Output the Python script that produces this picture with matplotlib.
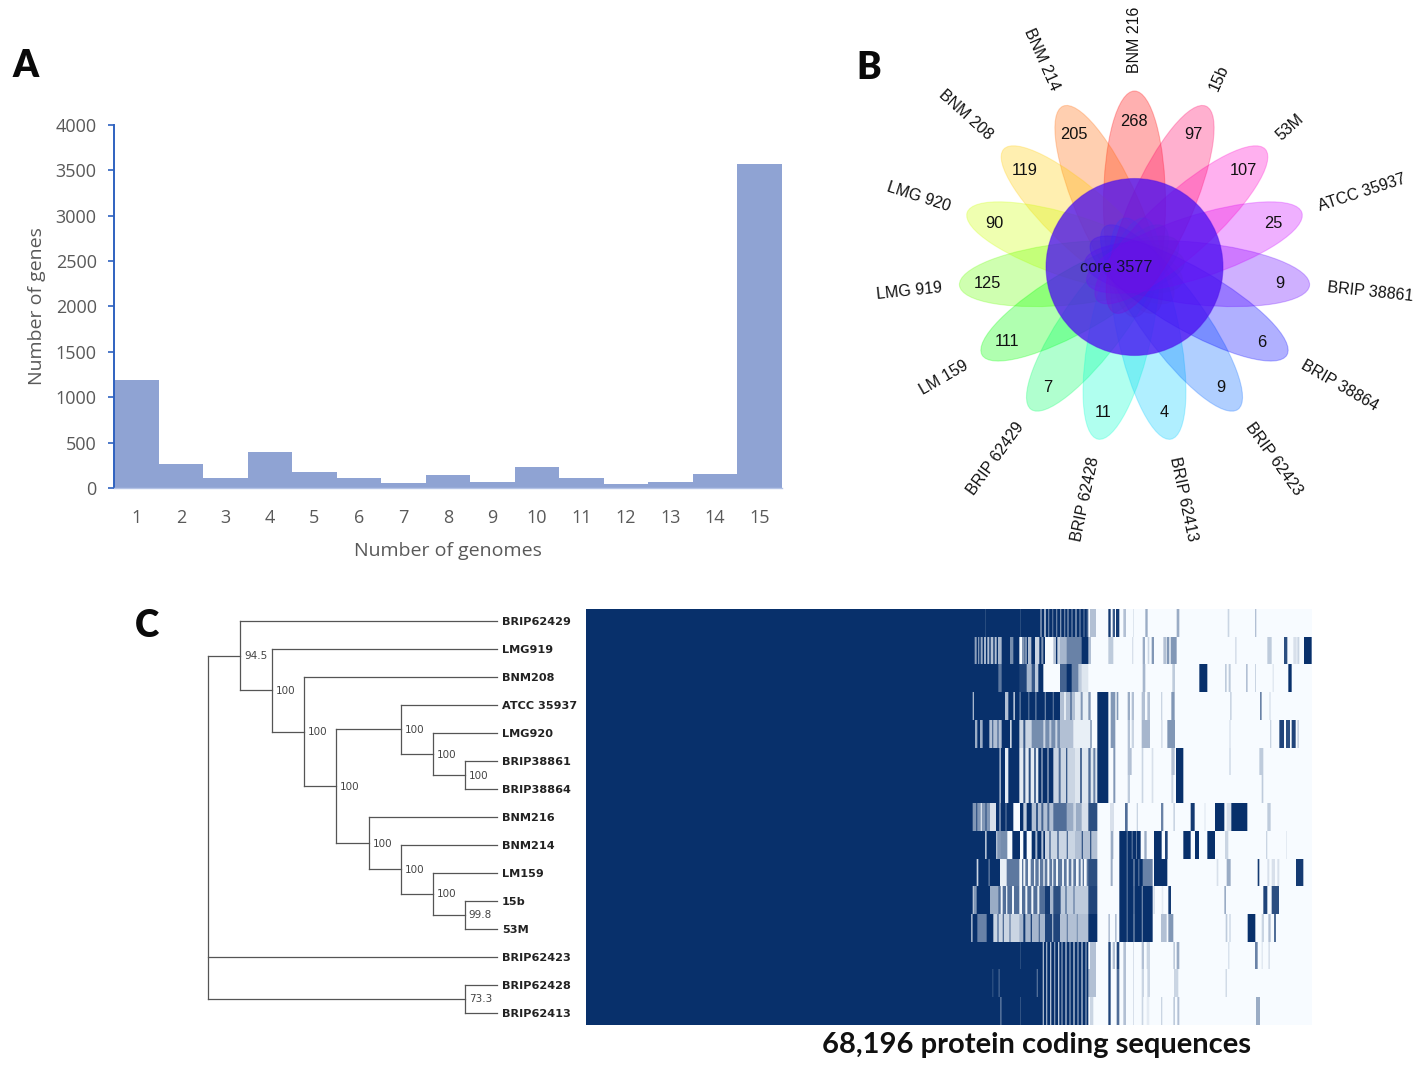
import matplotlib
matplotlib.use("Agg")
import numpy as np
import matplotlib.pyplot as plt
from matplotlib.patches import Ellipse, Circle
from matplotlib.colors import hsv_to_rgb, LinearSegmentedColormap

W, H = 1418, 1071

# ---- Panel A data
genome_counts = list(range(1, 16))
gene_counts = [1190, 265, 115, 400, 175, 105, 55, 140, 65, 235, 105, 40, 65, 155, 3570]

# ---- Panel B data (counter-clockwise from the top petal)
strain_names = ["BNM 216", "BNM 214", "BNM 208", "LMG 920", "LMG 919", "LM 159", "BRIP 62429",
                "BRIP 62428", "BRIP 62413", "BRIP 62423", "BRIP 38864", "BRIP 38861",
                "ATCC 35937", "53M", "15b"]
unique_genes = [268, 205, 119, 90, 125, 111, 7, 11, 4, 9, 6, 9, 25, 107, 97]
core_genes = 3577

# ---- Panel C tree: (depth, support, children); a string is a leaf
clade_15b = (8, "99.8", ["15b", "53M"])
clade_lm = (7, "100", ["LM159", clade_15b])
clade_214 = (6, "100", ["BNM214", clade_lm])
clade_216 = (5, "100", ["BNM216", clade_214])
clade_388 = (8, "100", ["BRIP38861", "BRIP38864"])
clade_920 = (7, "100", ["LMG920", clade_388])
clade_atcc = (6, "100", ["ATCC 35937", clade_920])
clade_mid = (4, "100", [clade_atcc, clade_216])
clade_208 = (3, "100", ["BNM208", clade_mid])
clade_919 = (2, "100", ["LMG919", clade_208])
clade_429 = (1, "94.5", ["BRIP62429", clade_919])
clade_428 = (8, "73.3", ["BRIP62428", "BRIP62413"])
tree_root = (0, "", [clade_429, "BRIP62423", clade_428])
TIP_DEPTH = 9

# ---- Panel C heat map: all 15 rows, bands (start, end, level)
n_columns = 2178
offset = 1122   # columns left of the read window, solid dark
window_end = 1055

stripes_a = [(75, 77, .8), (180, 182, .8), (240, 246, .6), (252, 258, .4), (264, 268, .6), (276, 280, .7),
             (288, 292, .6), (300, 304, .5), (312, 316, .6), (322, 326, .5), (334, 338, .6), (346, 350, .4),
             (358, 362, .6), (370, 374, .7), (380, 385, .75)]
stripes_b = [(248, 252, .35), (258, 262, .4), (270, 274, .3), (282, 286, .5), (294, 298, .25), (304, 308, .5),
             (316, 320, .3), (328, 332, .5), (340, 344, .25), (352, 356, .45), (364, 368, .3), (376, 380, .5)]
stripes_mid = [(178, 186, .03), (190, 196, .05), (204, 212, .03), (222, 226, .05), (236, 240, .1), (250, 254, .05),
               (262, 268, .03), (276, 280, .1), (288, 294, .05), (306, 312, .08), (320, 326, .03), (334, 340, .08),
               (348, 356, .04), (362, 368, .08), (372, 380, .03)]

row_0 = [(0, window_end, .02)] + [(0, 235, 1)] + [(235, 385, 1)] + stripes_a + [
    (390, 408, .3), (445, 452, .95), (458, 465, .8), (468, 478, .95), (490, 498, .3), (519, 522, .12),
    (556, 563, .4), (650, 658, .4), (803, 808, .2), (885, 889, .3)]
row_1 = [(0, 385, 1), (44, 50, .45), (54, 58, .5), (62, 68, .4), (72, 78, .35), (82, 88, .3), (92, 100, .3),
         (104, 110, .3), (114, 125, .35), (150, 160, .55), (178, 186, .02), (186, 194, .5), (196, 200, .3),
         (204, 214, .3), (225, 238, .2), (244, 250, .5), (255, 280, .02), (280, 288, .3), (292, 300, .2),
         (300, 320, .35), (320, 365, .6), (385, 393, .3), (393, 445, .02), (445, 460, .25), (460, 516, .02),
         (516, 520, .15), (520, 548, .02), (548, 555, .4), (555, 563, .02), (563, 568, .2), (568, 575, .02),
         (575, 582, .5), (582, 610, .02), (610, 618, .3), (618, 620, .02), (620, 628, .5), (628, 632, .02),
         (632, 650, .5), (650, 1055, .02), (825, 830, .15), (922, 935, .25), (972, 982, .85), (1000, 1010, .15),
         (1012, 1018, .2), (1032, 1055, 1)]
row_2 = [(0, 365, 1), (115, 125, .65), (178, 200, .9), (200, 215, .35), (215, 225, .8), (225, 235, .25),
         (250, 300, .02), (300, 320, .75), (335, 355, .6), (355, 365, .25), (365, 385, .12), (385, 1055, .02),
         (548, 556, .35), (637, 645, .25), (718, 742, 1), (795, 800, .25), (806, 812, .25), (858, 863, .3),
         (885, 888, .2), (938, 941, .15), (985, 995, 1)]
row_3 = [(0, 300, 1), (38, 42, .35), (135, 145, .3), (160, 165, .3), (178, 183, .7), (205, 208, .6),
         (225, 230, .7), (254, 258, .6), (278, 282, .7), (300, 345, .3), (312, 318, .1), (330, 336, .6),
         (345, 362, .1), (362, 368, .5), (368, 385, .08), (385, 392, .5), (392, 412, .02), (412, 445, 1),
         (445, 1055, .02), (452, 466, .5), (470, 475, .5), (503, 510, .4), (515, 522, .3), (545, 555, .3),
         (562, 570, .3), (603, 607, .2), (634, 644, .5), (810, 815, .2), (900, 905, .6), (928, 932, .15)]
row_4 = [(0, 300, 1), (45, 52, .4), (60, 68, .4), (88, 125, .3), (96, 100, .7), (112, 116, .7), (150, 155, .2),
         (178, 215, .2), (190, 196, .8), (215, 240, .55), (240, 300, .55), (250, 256, .2), (268, 274, .25),
         (286, 292, .2), (300, 340, .3), (340, 390, .08), (390, 396, .4), (396, 412, .02), (412, 445, 1),
         (445, 1055, .02), (452, 466, .5), (503, 510, .3), (515, 522, .2), (545, 570, .35), (603, 608, .15),
         (622, 645, .5), (808, 812, .15), (930, 934, .2), (958, 972, .9), (978, 990, .85), (995, 1007, .9),
         (1012, 1017, .2)]
row_5 = [(0, 280, 1), (118, 123, .4), (135, 145, .1), (178, 235, .1), (190, 196, .8), (206, 212, .85),
         (222, 228, .7), (244, 248, .4), (262, 266, .4), (280, 345, .2), (296, 302, .7), (318, 322, .8),
         (345, 412, .12), (360, 366, .7), (385, 392, .7), (400, 406, .6), (412, 445, 1), (445, 1055, .02),
         (460, 466, .5), (503, 515, .3), (545, 550, .2), (575, 580, .15), (634, 644, .3), (648, 670, 1),
         (808, 812, .2), (898, 910, .25)]
row_6 = [(0, 280, 1), (118, 123, .4), (135, 145, .1), (178, 235, .1), (190, 196, .8), (206, 212, .85),
         (222, 228, .7), (244, 248, .4), (262, 266, .4), (280, 345, .2), (296, 302, .7), (318, 322, .8),
         (345, 412, .12), (360, 366, .7), (385, 392, .7), (400, 406, .6), (412, 445, 1), (445, 1055, .02),
         (460, 466, .5), (503, 510, .25), (545, 550, .2), (575, 580, .15), (634, 640, .2), (648, 670, 1),
         (905, 910, .25)]
row_7 = [(0, 160, 1), (38, 90, .5), (48, 52, .8), (62, 66, .15), (76, 80, .8), (90, 108, .15), (118, 122, .4),
         (136, 140, .7), (160, 180, .02), (190, 200, .25), (215, 280, .3), (228, 234, .8), (244, 250, .75),
         (262, 268, .7), (280, 320, .7), (320, 385, .4), (340, 348, .2), (365, 385, .15), (385, 412, .85),
         (412, 1055, .02), (450, 462, .15), (495, 503, .7), (530, 534, .2), (603, 610, .6), (640, 645, .2),
         (692, 704, .95), (733, 737, .1), (765, 793, 1), (800, 814, .15), (814, 862, 1), (922, 932, .25)]
row_8 = [(0, 255, 1), (75, 80, .3), (108, 112, .3), (112, 122, .5), (122, 142, .55), (142, 157, .02),
         (180, 190, .02), (200, 215, .02), (226, 232, .35), (244, 250, .3), (255, 345, .2), (268, 272, .75),
         (292, 296, .8), (320, 324, .7), (345, 412, .3), (365, 369, .8), (390, 394, .8), (412, 1055, .02),
         (452, 460, .4), (478, 542, 1), (500, 503, .6), (515, 518, .6), (528, 531, .65), (553, 560, .4),
         (582, 605, 1), (615, 623, .9), (670, 692, 1), (705, 717, 1), (742, 765, 1), (795, 805, .2),
         (918, 922, .2), (978, 981, .1)]
row_9 = [(0, 120, 1), (50, 55, .2), (85, 90, .7), (120, 140, .08), (140, 385, .65)] + stripes_mid + [
    (385, 412, .85), (412, 1055, .02), (452, 458, .4), (478, 548, 1), (500, 503, .6), (520, 524, .55),
    (535, 538, .6), (548, 578, .6), (582, 622, 1), (770, 775, .15), (800, 812, .4), (893, 898, .95),
    (922, 928, .15), (935, 945, .15), (952, 958, .15), (1008, 1030, .95)]
row_10 = [(0, 90, 1), (38, 42, .3), (42, 50, .5), (90, 115, .4), (115, 255, .7), (122, 128, .05), (138, 142, .08),
          (156, 162, .05), (178, 186, .03), (196, 202, .05), (214, 220, .03), (232, 238, .08),
          (255, 270, .95), (270, 280, .35), (280, 302, .85), (302, 385, .25), (316, 320, .7), (340, 344, .6),
          (385, 412, .9), (412, 1055, .02), (478, 578, 1), (500, 503, .6), (520, 524, .6), (545, 549, .6),
          (580, 585, .15), (605, 610, .1), (625, 633, .95), (793, 798, .4), (910, 922, .9), (935, 957, .85)]
row_11 = [(0, 100, 1), (33, 38, .4), (52, 80, .6), (100, 178, .2), (112, 116, .7), (128, 132, .7), (148, 152, .6),
          (178, 255, .35), (190, 196, .95), (212, 216, .9), (236, 240, .7), (255, 300, .9), (276, 280, .4),
          (300, 385, .3), (320, 324, .6), (350, 354, .5), (385, 412, 1), (412, 1055, .02), (445, 450, .3),
          (465, 470, .3), (478, 578, 1), (500, 503, .6), (520, 524, .55), (545, 549, .6), (603, 620, .3),
          (625, 640, .5), (797, 802, .25), (808, 812, .2), (863, 886, 1), (905, 912, .2), (925, 932, .3),
          (942, 948, .7)]
row_12 = [(0, 385, 1)] + stripes_b + [(180, 182, .8), (385, 1055, .02), (390, 408, .3), (445, 452, .9),
          (458, 465, .3), (470, 478, .9), (490, 498, .3), (519, 522, .15), (545, 552, .3), (560, 570, .2),
          (640, 645, .25), (650, 658, .4), (805, 808, .2), (885, 893, .6), (905, 908, .15), (925, 930, .15)]
row_13 = [(0, 385, 1)] + stripes_b + [(97, 100, .8), (115, 120, .8), (230, 234, .7), (385, 1055, .02),
          (385, 408, .3), (445, 452, .9), (470, 478, .7), (490, 498, .3), (519, 522, .15), (545, 552, .2),
          (562, 570, .2), (642, 655, .2), (797, 800, .25)]
row_14 = [(0, 385, 1)] + stripes_b + [(120, 125, .7), (180, 182, .75), (385, 1055, .02), (390, 400, .2),
          (445, 452, .9), (470, 478, .7), (490, 498, .3), (519, 522, .15), (545, 550, .2), (560, 568, .1),
          (603, 607, .2), (640, 645, .25), (652, 658, .3), (888, 900, .4)]
heat_rows = [row_0, row_1, row_2, row_3, row_4, row_5, row_6, row_7, row_8, row_9, row_10, row_11, row_12,
             row_13, row_14]

GREY = "#595959"
plt.rcParams["font.family"] = ["Open Sans", "DejaVu Sans"]
fig = plt.figure(figsize=(W / 100, H / 100), dpi=100, facecolor="white")


def px_axes(x0, y0, x1, y1, **kw):
    return fig.add_axes([x0 / W, 1 - y1 / H, (x1 - x0) / W, (y1 - y0) / H], **kw)


# ---- Panel A
ax = px_axes(114, 125, 782, 488)
ax.bar(genome_counts, gene_counts, width=1.0, color="#8FA3D3", linewidth=0)
ax.set_xlim(0.5, 15.5)
ax.set_ylim(0, 4000)
ax.set_yticks(range(0, 4001, 500))
ax.set_xticks(genome_counts)
ax.tick_params(axis="x", length=0, labelsize=13, labelcolor=GREY, pad=15)
ax.tick_params(axis="y", length=4.5, width=1.2, color="#2F62C0", labelsize=13, labelcolor=GREY, pad=8, direction="out")
for s in ("top", "right"):
    ax.spines[s].set_visible(False)
ax.spines["left"].set_color("#2F62C0")
ax.spines["left"].set_linewidth(1.4)
ax.spines["bottom"].set_color("#B4C3E6")
ax.spines["bottom"].set_linewidth(1.0)
ax.set_xlabel("Number of genomes", fontsize=14, color=GREY, labelpad=11)
ax.set_ylabel("Number of genes", fontsize=14, color=GREY, labelpad=7)

# ---- Panel B
CX, CY = 1134.5, 267
fl = px_axes(860, 0, 1418, 545)
fl.set_xlim(860 - CX, 1418 - CX)
fl.set_ylim(CY - 545, CY)
fl.axis("off")
SEMI_MAJOR, SEMI_MINOR, TIP = 113, 31, 176
n = len(strain_names)
for i, (name, val) in enumerate(zip(strain_names, unique_genes)):
    ang = 90 + i * 360 / n
    rad = np.deg2rad(ang)
    c = hsv_to_rgb((i / n, 1, 1))
    r0 = TIP - SEMI_MAJOR
    fl.add_patch(Ellipse((r0 * np.cos(rad), r0 * np.sin(rad)), 2 * SEMI_MAJOR, 2 * SEMI_MINOR, angle=ang,
                         facecolor=(*c, .31), edgecolor=(*c, .25), linewidth=.8))
    fl.text(147 * np.cos(rad) - .5, 147 * np.sin(rad) - 1.5, str(val), ha="center", va="center", fontsize=11.8,
            family="Liberation Sans", color="#111111", zorder=5)
    right = np.cos(rad) > 1e-6 or i == 0
    rot = ang if right else ang - 180
    fl.text(194 * np.cos(rad), 194 * np.sin(rad), name, ha="left" if right else "right", va="center",
            rotation=(rot + 180) % 360 - 180, rotation_mode="anchor", fontsize=11.5, family="Liberation Sans",
            color="#111111", zorder=5)
fl.add_patch(Circle((0, 0), 88.5, facecolor=(0.30, 0.07, 0.95, .78), edgecolor=(0.3, 0.05, .9, .4), lw=.8, zorder=3))
fl.text(-18, -1, f"core {core_genes}", ha="center", va="center", fontsize=11.7, family="Liberation Sans",
        color="#111133", zorder=5)

# ---- Panel C heat map
hm = px_axes(586, 609, 1312, 1025)
matrix = np.ones((len(heat_rows), n_columns))
for r, bands in enumerate(heat_rows):
    for a, b, v in bands:
        matrix[r, offset + a:offset + b] = v
    matrix[r, offset + window_end:] = .02
binned = matrix.reshape(len(heat_rows), -1, 3).mean(axis=2)
navy = LinearSegmentedColormap.from_list("navy", ["#f7fbff", "#08306b"])
hm.imshow(binned, aspect="auto", cmap=navy, vmin=.02, vmax=1, interpolation="nearest")
hm.axis("off")

# ---- Panel C tree
tr = px_axes(208, 621, 497, 1012.5)
tr.set_xlim(0, TIP_DEPTH)
tr.set_ylim(14, 0)
tr.axis("off")
leaf_no = [0]
LINE = dict(color="#555555", lw=.9, solid_capstyle="projecting")


def draw(node):
    if isinstance(node, str):
        y = leaf_no[0]
        leaf_no[0] += 1
        tr.text(TIP_DEPTH + .16, y + .05, node, ha="left", va="center", fontsize=8.1, fontweight="bold",
                family="DejaVu Sans", color="#222222", clip_on=False)
        return TIP_DEPTH, y
    depth, support, children = node
    pts = [draw(c) for c in children]
    ys = [p[1] for p in pts]
    for x, y in pts:
        tr.plot([depth, x], [y, y], clip_on=False, **LINE)
    tr.plot([depth, depth], [min(ys), max(ys)], clip_on=False, **LINE)
    ymid = (ys[0] + ys[-1]) / 2
    if support:
        tr.text(depth + .12, ymid + .03, support, ha="left", va="center", fontsize=7.5, family="DejaVu Sans", color="#444444")
    return depth, ymid


draw(tree_root)

# ---- Text spanning the panels
fig.text(1037 / W, 1 - 1045 / H, "68,196 protein coding sequences", ha="center", va="center", fontsize=21,
         fontweight="bold", family="Lato", color="#111111")
for s, x, y in (("A", 26, 66), ("B", 869, 68), ("C", 147, 626)):
    fig.text(x / W, 1 - y / H, s, ha="center", va="center", fontsize=26.5, fontweight="heavy", family="Lato", color="#0a0a0a")

fig.savefig("out.png", dpi=100, facecolor="white")
